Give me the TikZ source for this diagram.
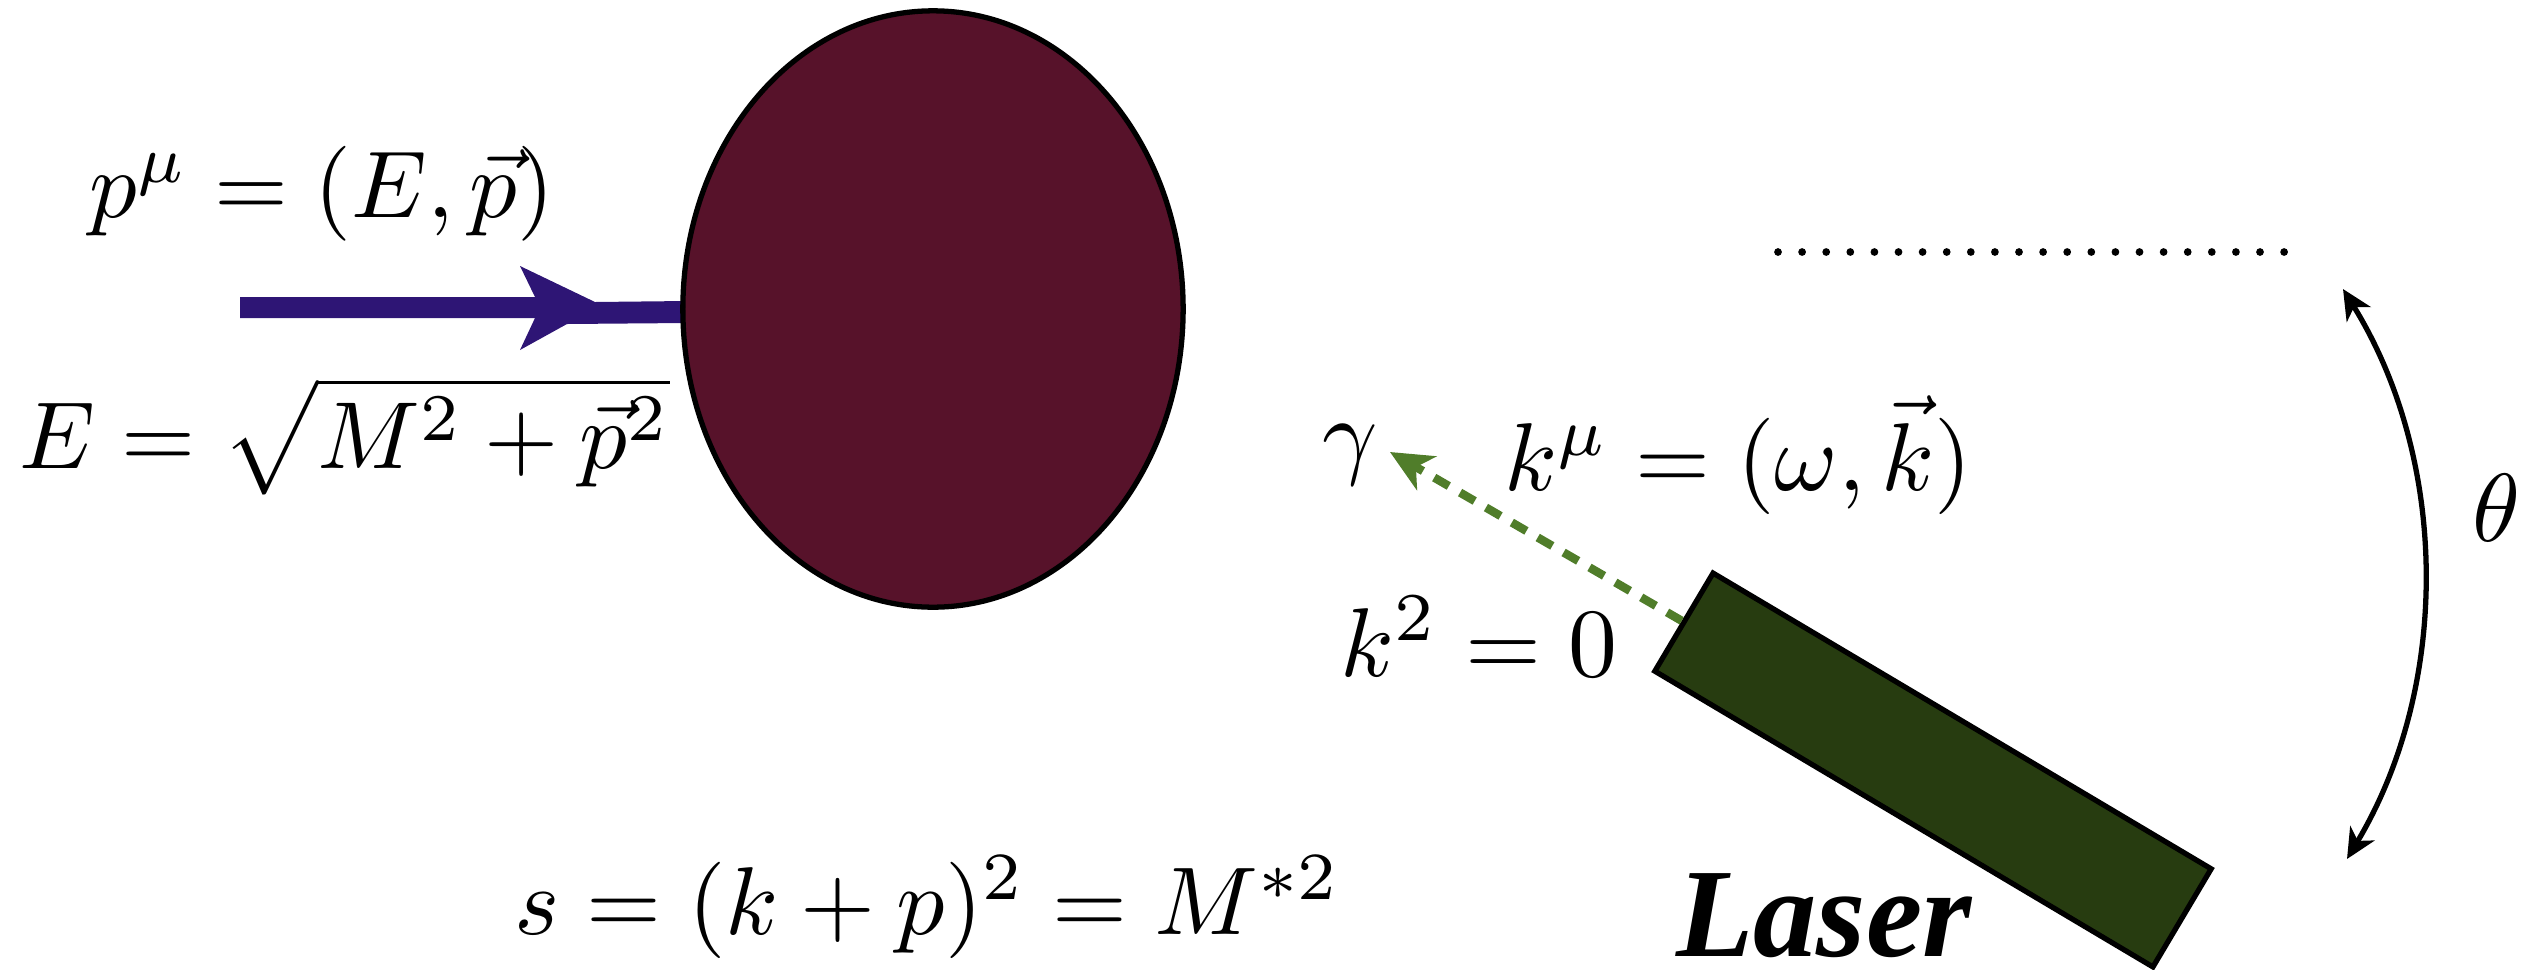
\RequirePackage{fix-cm}
\documentclass[tikz,border=0pt]{standalone}
\usepackage{fontspec}
\newfontfamily\laserfont{Liberation Serif}
\usetikzlibrary{shapes.geometric,arrows.meta,calc}
\definecolor{blobred}{RGB}{87,18,42}
\definecolor{beamblue}{RGB}{46,21,117}
\definecolor{photongreen}{RGB}{80,125,42}
\definecolor{laserfill}{RGB}{39,60,16}
\pgfdeclarelayer{bg}
\pgfsetlayers{bg,main}
\newcommand{\bigeq}[2][2.74]{\scalebox{#1}{$#2$}}
\begin{document}
\begin{tikzpicture}[x=0.01cm,y=-0.01cm,
  eq/.style={anchor=base,inner sep=0pt,font=\fontsize{10}{12}\selectfont},
  blobstyle/.style={ellipse,draw=black,line width=1.5pt,fill=blobred,inner sep=0pt,
    minimum width=5.0cm,minimum height=5.96cm},
  laserbox/.style={rectangle,draw=black,line width=1.5pt,fill=laserfill,inner sep=0pt,
    minimum width=5.79cm,minimum height=1.14cm,rotate=-30.7},
  photon/.style={photongreen,line width=2.4pt,dash pattern=on 4.8pt off 3.7pt,
    -{Stealth[length=12pt,width=11pt,inset=3.5pt]}},
  anglearrow/.style={line width=1.5pt,
    {Stealth[length=8.5pt,width=8pt,inset=2.5pt]}-{Stealth[length=8.5pt,width=8pt,inset=2.5pt]}},
  dotstyle/.style={fill=black}
]
\useasboundingbox (0,0) rectangle (2547,969);

% blob and laser
\node[blobstyle] (blob) at (933,309) {};
\node[laserbox] (laser) at (1933,770) {};

% incoming beam
\coordinate (beamstart) at (240,308);
\begin{pgfonlayer}{bg}
\fill[beamblue] ($(beamstart)+(0,-11)$) -- (535,297) -- (520,266) -- (595,302)
  -- ($(blob.west)+(6,-8)$) -- ($(blob.west)+(6,14)$) -- (567,324) -- (520,350)
  -- (535,318) -- ($(beamstart)+(0,10)$) -- cycle;
\end{pgfonlayer}

% texts
\node[eq] (pmu) at (322,217) {\bigeq[2.70]{p^\mu = (E,\vec{p})}};
\node[eq] (Edef) at (345,468) {\bigeq[2.71]{E = \sqrt{M^2+\vec{p}^2}}};
\node[eq] (gam) at (1350,466) {\bigeq[2.75]{\gamma}};
\node[eq] (kmu) at (1738,490) {\bigeq[2.74]{k^\mu = (\omega,\vec{k})}};
\node[eq] (ksq) at (1479,676) {\bigeq[2.78]{k^2 = 0}};
\node[eq] (seq) at (928,934) {\bigeq[2.74]{s = (k+p)^2 = M^{*2}}};
\node[eq] (theta) at (2497,541) {\bigeq[2.75]{\theta}};
\node[anchor=base,inner sep=0pt,font=\laserfont\bfseries\itshape\fontsize{36}{40}\selectfont]
  (laserlabel) at (1824,956) {Laser};

% photon
\coordinate (photontip) at (1390,452);
\draw[photon] (laser.west) -- (photontip);

% dotted reference line
\foreach \i in {0,...,21} \fill[dotstyle] (1778+24.1*\i,252) circle[radius=1.1pt];

% angle arrow
\coordinate (thtop) at (2343,289);
\coordinate (thbot) at (2347,859);
\draw[anglearrow] (thtop) .. controls (2450,462) and (2450,687) .. (thbot);
\end{tikzpicture}
\end{document}
